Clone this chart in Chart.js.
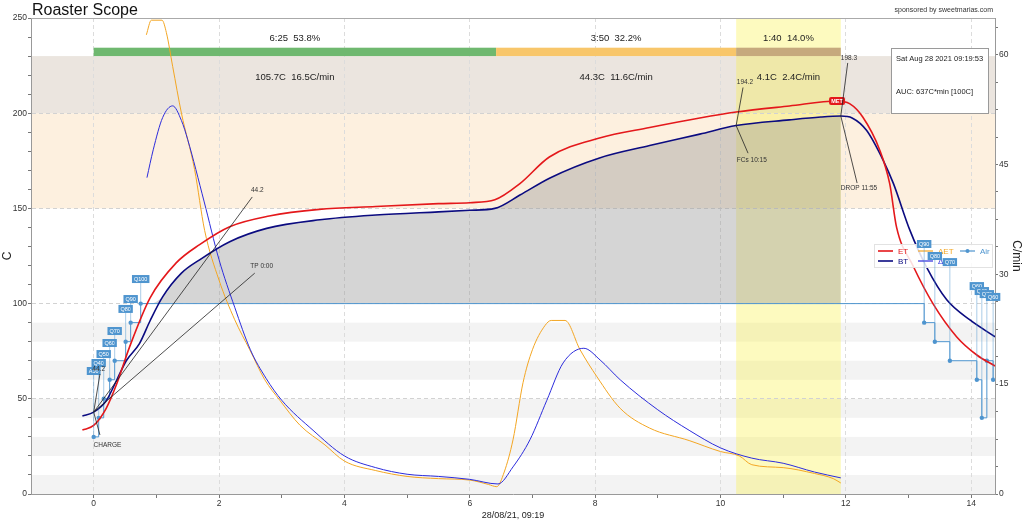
<!DOCTYPE html>
<html>
<head>
<meta charset="utf-8">
<script src="https://cdn.jsdelivr.net/npm/chart.js@4.4.0/dist/chart.umd.min.js"></script>
<style>
  body { margin: 0; background: #fff; }
  canvas { display: block; }
</style>
</head>
<body>
<canvas id="roast" width="1024" height="521"></canvas>
<script>
// --- roast data (minutes / C / C per min) ---
const btTime = [-0.18, 0, 0.2, 0.37, 0.52, 0.73, 0.9, 1.1, 1.4, 1.69, 2.17, 2.76, 3.61, 4.5, 5.5, 6.0, 6.4, 6.8, 7.28, 8.07, 8.87, 9.67, 10.25, 11.1, 11.6, 11.92, 12.1, 12.33, 12.6, 12.76, 13.02, 13.29, 13.61, 13.98, 14.38];
const btTemp = [41, 43, 49, 60, 70, 79, 91, 103.5, 116, 123, 132.5, 139.5, 144, 146.5, 148.2, 149, 150, 157, 166, 176.5, 183, 189, 193.5, 196.5, 198, 198.5, 197.5, 191, 175, 163, 138.7, 119, 102, 91.4, 82.6];

const etTime = [-0.18, 0, 0.2, 0.37, 0.57, 0.9, 1.32, 1.69, 2.17, 2.8, 3.6, 4.5, 5.5, 6.0, 6.4, 6.8, 7.27, 8.07, 8.87, 9.67, 10.25, 11.1, 11.86, 12.06, 12.27, 12.54, 12.7, 12.81, 13.07, 13.39, 13.77, 14.09, 14.38];
const etTemp = [33.6, 36, 45, 58, 77, 103, 121.5, 131, 140.4, 146, 149.5, 151, 152.5, 153, 154.5, 163, 177, 187, 192.5, 197.5, 200.6, 203.8, 206.4, 205, 198, 180.7, 163, 140, 120, 100, 82.5, 73, 67.2];

const dEtTime = [0.84, 0.92, 1.09, 1.16, 1.26, 1.4, 1.61, 1.77, 2.0, 2.25, 2.49, 2.73, 2.97, 3.29, 3.69, 4.0, 4.5, 5.0, 5.5, 6.0, 6.3, 6.43, 6.55, 6.69, 6.85, 7.0, 7.2, 7.3, 7.52, 7.76, 8.03, 8.4, 8.87, 9.5, 10.0, 10.3, 10.5, 11.0, 11.5, 11.8, 11.92];
const dEt = [62.7, 64.7, 64.7, 63, 58.4, 52, 44.3, 36, 29.2, 23.8, 19.7, 15.6, 12.8, 9.4, 6.7, 4.5, 3.2, 2.4, 2.1, 1.9, 1.3, 1.0, 3, 7.4, 15.2, 19.7, 23, 23.7, 23.7, 19.7, 16, 11.7, 9, 7.3, 5.8, 5.2, 4, 3.6, 2.8, 2.1, 1.5];

const dBtTime = [0.85, 0.95, 1.1, 1.26, 1.4, 1.5, 1.76, 2.0, 2.25, 2.5, 2.75, 3.0, 3.5, 4.0, 4.5, 5.0, 5.5, 6.0, 6.45, 6.69, 6.96, 7.23, 7.49, 7.82, 8.08, 8.4, 9.0, 9.5, 10.0, 10.5, 11.0, 11.5, 11.92];
const dBt = [43.2, 47, 51.4, 53, 51, 48.4, 40, 32, 25.5, 19.7, 15.8, 12.8, 8.7, 5.2, 3.6, 2.7, 2.4, 2.0, 1.37, 3.7, 7.4, 12.8, 17.9, 19.9, 18.3, 15.6, 11.5, 8.7, 6.3, 4.9, 4.2, 3.0, 2.2];

const airTime = [0, 0.08, 0.16, 0.255, 0.335, 0.51, 0.59, 0.75, 13.25, 13.42, 13.66, 14.09, 14.17, 14.25, 14.35];
const airValue = [30, 40, 50, 60, 70, 80, 90, 100, 90, 80, 70, 60, 40, 70, 60];
const airTags = ['A30', 'Q40', 'Q50', 'Q60', 'Q70', 'Q80', 'Q90', 'Q100', 'Q90', 'Q80', 'Q70', 'Q60', 'Q40', 'Q70', 'Q60'];

// events + phases
const chargeTime = 0, dryEndTime = 6.42, fcsTime = 10.25, dropTime = 11.92;
const phaseStart = [chargeTime, dryEndTime, fcsTime];
const phaseEnd = [dryEndTime, fcsTime, dropTime];
const phaseTime = ['6:25  53.8%', '3:50  32.2%', '1:40  14.0%'];
const phaseRise = ['105.7C  16.5C/min', '44.3C  11.6C/min', '4.1C  2.4C/min'];
const aucBase = 100;

// tick values
const xTicks = [0, 1, 2, 3, 4, 5, 6, 7, 8, 9, 10, 11, 12, 13, 14];
const tempTicks = [0, 10, 20, 30, 40, 50, 60, 70, 80, 90, 100, 110, 120, 130, 140, 150, 160, 170, 180, 190, 200, 210, 220, 230, 240, 250];
const rorTicks = [0, 3.75, 7.5, 11.25, 15, 18.75, 22.5, 26.25, 30, 33.75, 37.5, 41.25, 45, 48.75, 52.5, 56.25, 60, 63.75];

// annotation placement (data coords)
const airTagY = [64.6, 68.8, 73.5, 79.3, 85.6, 97.2, 102.4, 112.9, 131.3, 125, 121.8, 109.2, 106.6, 105, 103.5];
const eventNotes = [
  { text: 'CHARGE', at: chargeTime, lx: 0.1, ly: 31, tx: 0.22, ty: 25.7 },
  { text: '44.2', at: chargeTime, lx: 0.1, ly: 63, tx: 0.08, ty: 65.5 },
  { text: '44.2', at: chargeTime, lx: 2.53, ly: 156, tx: 2.61, ty: 159.5 },
  { text: 'TP 0:00', at: chargeTime, lx: 2.57, ly: 116, tx: 2.68, ty: 119.5 },
  { text: '194.2', at: fcsTime, lx: 10.36, ly: 213.5, tx: 10.39, ty: 216.5 },
  { text: 'FCs 10:15', at: fcsTime, lx: 10.44, ly: 179, tx: 10.5, ty: 175.5 },
  { text: '198.3', at: dropTime, lx: 12.03, ly: 226.4, tx: 12.05, ty: 229 },
  { text: 'DROP 11:55', at: dropTime, lx: 12.18, ly: 163.3, tx: 12.21, ty: 160.5 }
];

const RED = '#e4181b', NAVY = '#0b0b80', ORANGE = '#f3a623', BLUE = '#2c2cdc', AIR = '#4f95cf';
const FONT = "'Liberation Sans', Arial, sans-serif";

Chart.defaults.font.family = FONT;
Chart.defaults.color = '#333';

const pts = (ts, vs) => ts.map((t, i) => ({ x: t, y: vs[i] }));

function interp(ts, vs, t) {
  for (let i = 1; i < ts.length; i++) {
    if (t <= ts[i]) {
      const f = (t - ts[i - 1]) / (ts[i] - ts[i - 1]);
      return vs[i - 1] + f * (vs[i] - vs[i - 1]);
    }
  }
  return vs[vs.length - 1];
}

const aucPts = pts(btTime, btTemp)
  .filter(p => p.x >= chargeTime && p.x <= dropTime)
  .map(p => ({ x: p.x, y: Math.max(p.y, aucBase) }));

const roastPlugin = {
  id: 'roast',
  beforeDraw(chart) {
    const { ctx, chartArea: a, scales: { x, y } } = chart;
    ctx.save();
    ctx.beginPath();
    ctx.rect(a.left, a.top, a.width, a.height);
    ctx.clip();
    const band = (lo, hi, col) => {
      ctx.fillStyle = col;
      ctx.fillRect(a.left, y.getPixelForValue(hi), a.width, y.getPixelForValue(lo) - y.getPixelForValue(hi));
    };
    [0, 20, 40, 60, 80].forEach(v => band(v, v + 10, '#f3f3f3'));
    band(150, 200, '#fdf0df');
    band(200, 230, '#ebe5df');
    // development window
    ctx.fillStyle = 'rgba(250,240,60,0.33)';
    const x0 = x.getPixelForValue(fcsTime), x1 = x.getPixelForValue(dropTime);
    ctx.fillRect(x0, a.top, x1 - x0, a.height);
    ctx.restore();
  },
  beforeDatasetsDraw(chart) {
    const { ctx, scales: { x, y } } = chart;
    const cols = ['#6fb86f', '#f8c66a', '#c6a97d'];
    ctx.save();
    phaseStart.forEach((s, i) => {
      const x0 = x.getPixelForValue(s), x1 = x.getPixelForValue(phaseEnd[i]);
      const y0 = y.getPixelForValue(234.4), y1 = y.getPixelForValue(230);
      ctx.fillStyle = cols[i];
      ctx.fillRect(x0, y0, x1 - x0, y1 - y0);
    });
    ctx.restore();
  },
  afterDatasetsDraw(chart) {
    const { ctx, chartArea: a, scales: { x, y } } = chart;
    ctx.save();

    // phase texts
    ctx.fillStyle = '#222';
    ctx.font = '9.5px ' + FONT;
    ctx.textAlign = 'center';
    ctx.textBaseline = 'middle';
    phaseStart.forEach((s, i) => {
      const cx = (x.getPixelForValue(s) + x.getPixelForValue(phaseEnd[i])) / 2;
      ctx.fillText(phaseTime[i], cx, y.getPixelForValue(239.5));
      ctx.fillText(phaseRise[i], cx, y.getPixelForValue(219));
    });

    // MET marker at ET peak
    const metIdx = etTemp.indexOf(Math.max(...etTemp));
    const mx = x.getPixelForValue(etTime[metIdx]), my = y.getPixelForValue(etTemp[metIdx]);
    ctx.fillStyle = RED;
    ctx.beginPath();
    if (ctx.roundRect) ctx.roundRect(mx - 8, my - 4, 16, 8, 2); else ctx.rect(mx - 8, my - 4, 16, 8);
    ctx.fill();
    ctx.fillStyle = '#fff';
    ctx.font = 'bold 5.5px ' + FONT;
    ctx.fillText('MET', mx, my + 0.5);

    // legend
    const lx = a.right - 121, ly = 244;
    ctx.fillStyle = 'rgba(255,255,255,0.85)';
    ctx.fillRect(lx, ly, 118, 23);
    ctx.strokeStyle = '#e2e2e2';
    ctx.lineWidth = 1;
    ctx.strokeRect(lx + 0.5, ly + 0.5, 118, 23);
    const items = [['ET', 0, 0], ['\u0394ET', 1, 0], ['Air', 2, 0], ['BT', 0, 1], ['\u0394BT', 1, 1]];
    const colX = [4, 44, 86];
    ctx.font = '8px ' + FONT;
    ctx.textAlign = 'left';
    items.forEach(([lab, c, r]) => {
      const ds = chart.data.datasets.find(d => d.label === lab);
      const ix = lx + colX[c], iy = ly + 7 + r * 10;
      ctx.strokeStyle = ds.borderColor;
      ctx.lineWidth = lab === 'ET' || lab === 'BT' ? 1.6 : 1.2;
      ctx.beginPath();
      ctx.moveTo(ix, iy);
      ctx.lineTo(ix + 15, iy);
      ctx.stroke();
      if (lab === 'Air') {
        ctx.fillStyle = ds.borderColor;
        ctx.beginPath();
        ctx.arc(ix + 7.5, iy, 2, 0, Math.PI * 2);
        ctx.fill();
      }
      ctx.fillStyle = ds.borderColor;
      ctx.fillText(lab, ix + 20, iy + 0.5);
    });

    // air tags
    ctx.font = '5.5px ' + FONT;
    ctx.textAlign = 'center';
    airTime.forEach((t, i) => {
      const px = x.getPixelForValue(t), py = y.getPixelForValue(airValue[i]);
      const ty = y.getPixelForValue(airTagY[i]);
      ctx.strokeStyle = 'rgba(79,149,207,0.6)';
      ctx.lineWidth = 0.8;
      ctx.beginPath();
      ctx.moveTo(px, py);
      ctx.lineTo(px, ty + 4);
      ctx.stroke();
      const w = ctx.measureText(airTags[i]).width + 4;
      ctx.fillStyle = AIR;
      ctx.fillRect(px - w / 2, ty - 4, w, 8);
      ctx.fillStyle = '#fff';
      ctx.fillText(airTags[i], px, ty + 0.5);
    });

    // event annotations
    ctx.strokeStyle = '#222';
    ctx.lineWidth = 0.8;
    ctx.font = '6.5px ' + FONT;
    ctx.fillStyle = '#333';
    eventNotes.forEach(n => {
      const ax = x.getPixelForValue(n.at), ay = y.getPixelForValue(interp(btTime, btTemp, n.at));
      ctx.beginPath();
      ctx.moveTo(ax, ay);
      ctx.lineTo(x.getPixelForValue(n.lx), y.getPixelForValue(n.ly));
      ctx.stroke();
      ctx.fillText(n.text, x.getPixelForValue(n.tx), y.getPixelForValue(n.ty));
    });

    // info box
    const bx = a.right - 104, by = 48;
    ctx.fillStyle = '#fff';
    ctx.fillRect(bx, by, 97, 65);
    ctx.strokeStyle = '#9a9a9a';
    ctx.lineWidth = 1;
    ctx.strokeRect(bx + 0.5, by + 0.5, 97, 65);
    ctx.fillStyle = '#222';
    ctx.font = '7.5px ' + FONT;
    ctx.textAlign = 'left';
    ctx.fillText('Sat Aug 28 2021 09:19:53', bx + 5, by + 11);
    ctx.fillText('AUC: 637C*min [100C]', bx + 5, by + 44);
    ctx.restore();
  },
  afterDraw(chart) {
    const { ctx, chartArea: a } = chart;
    ctx.save();
    ctx.strokeStyle = '#aaa';
    ctx.lineWidth = 1;
    ctx.beginPath();
    ctx.moveTo(a.left, a.top + 0.5);
    ctx.lineTo(a.right, a.top + 0.5);
    ctx.stroke();
    ctx.fillStyle = '#111';
    ctx.font = '16px ' + FONT;
    ctx.textAlign = 'left';
    ctx.textBaseline = 'alphabetic';
    ctx.fillText('Roaster Scope', a.left + 1, 15);
    ctx.font = '7px ' + FONT;
    ctx.textAlign = 'right';
    ctx.fillStyle = '#333';
    ctx.fillText('sponsored by sweetmarias.com', a.right - 2, 12);
    ctx.restore();
  }
};

const lineDs = (label, data, color, width, axis, order) => ({
  label, data, borderColor: color, backgroundColor: color, borderWidth: width,
  pointRadius: 0, cubicInterpolationMode: 'monotone', yAxisID: axis, order, fill: false
});

new Chart(document.getElementById('roast'), {
  type: 'line',
  data: {
    datasets: [
      lineDs('ET', pts(etTime, etTemp), RED, 1.6, 'y', 1),
      lineDs('BT', pts(btTime, btTemp), NAVY, 1.6, 'y', 2),
      lineDs('\u0394ET', pts(dEtTime, dEt), ORANGE, 1, 'y2', 4),
      lineDs('\u0394BT', pts(dBtTime, dBt), BLUE, 1, 'y2', 3),
      {
        label: 'Air', data: pts(airTime, airValue), borderColor: AIR, backgroundColor: AIR,
        borderWidth: 1, stepped: 'before', pointRadius: 2.2, pointBorderWidth: 0,
        yAxisID: 'y', order: 5, fill: false
      },
      {
        label: 'AUC', data: aucPts, borderWidth: 0, pointRadius: 0,
        cubicInterpolationMode: 'monotone', backgroundColor: 'rgba(150,150,150,0.4)',
        fill: { value: aucBase }, yAxisID: 'y', order: 10
      }
    ]
  },
  options: {
    responsive: false,
    animation: false,
    devicePixelRatio: 1,
    events: [],
    layout: { padding: { top: 18, left: 0, right: 0, bottom: 0 } },
    plugins: { legend: { display: false }, tooltip: { enabled: false }, title: { display: false } },
    scales: {
      x: {
        type: 'linear', min: -1, max: 14.38,
        afterBuildTicks: s => { s.ticks = xTicks.map(v => ({ value: v })); },
        afterFit: s => { s.height = 27; },
        ticks: { autoSkip: false, maxRotation: 0, padding: 1, font: { size: 8.5 }, color: '#333',
          callback: v => (v % 2 === 0 ? v : '') },
        grid: { color: c => (c.tick && c.tick.value % 2 === 0 ? '#dcdcdc' : 'rgba(0,0,0,0)'),
          tickColor: '#777', tickLength: 4 },
        border: { color: '#999', dash: [4, 3] },
        title: { display: true, text: '28/08/21, 09:19', font: { size: 9 }, color: '#222', padding: { top: 0, bottom: 0 } }
      },
      y: {
        position: 'left', min: 0, max: 250,
        afterBuildTicks: s => { s.ticks = tempTicks.map(v => ({ value: v })); },
        afterFit: s => { s.width = 31; },
        ticks: { autoSkip: false, padding: 1, font: { size: 8.5 }, color: '#333',
          callback: v => (v % 50 === 0 ? v : '') },
        grid: { color: c => (c.tick && c.tick.value % 50 === 0 && c.tick.value < 250 ? '#d2d2d2' : 'rgba(0,0,0,0)'),
          tickColor: '#777', tickLength: 3 },
        border: { color: '#999', dash: [4, 3] },
        title: { display: true, text: 'C', font: { size: 12 }, color: '#222', padding: { top: 0, bottom: 0 } }
      },
      y2: {
        position: 'right', min: 0, max: 65,
        afterBuildTicks: s => { s.ticks = rorTicks.map(v => ({ value: v })); },
        afterFit: s => { s.width = 29; },
        ticks: { autoSkip: false, padding: 1, font: { size: 8.5 }, color: '#333',
          callback: v => (v % 15 === 0 ? v : '') },
        grid: { drawOnChartArea: false, tickColor: '#777', tickLength: 3 },
        border: { color: '#999' },
        title: { display: true, text: 'C/min', font: { size: 12 }, color: '#222', padding: { top: 0, bottom: 0 } }
      }
    }
  },
  plugins: [roastPlugin]
});
</script>
</body>
</html>
